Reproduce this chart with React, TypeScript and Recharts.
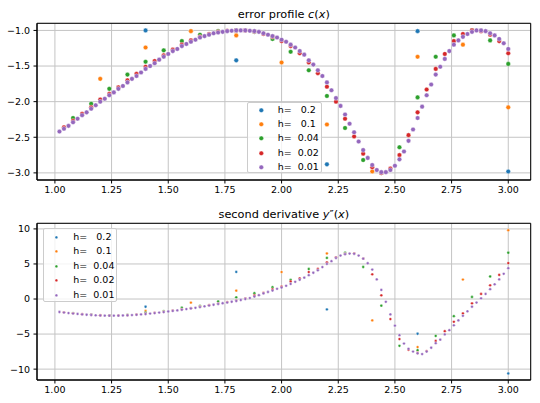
import React from "react";
import {
  ScatterChart,
  Scatter,
  XAxis,
  YAxis,
  CartesianGrid,
  ReferenceArea,
} from "recharts";

const COLORS = ["#1f77b4", "#ff7f0e", "#2ca02c", "#d62728", "#9467bd"];
const STEPS = [0.2, 0.1, 0.04, 0.02, 0.01];
const LABELS = ["h=   0.2", "h=   0.1", "h=  0.04", "h=  0.02", "h=  0.01"];
const X_TICKS = [1.0, 1.25, 1.5, 1.75, 2.0, 2.25, 2.5, 2.75, 3.0];
const C_TICKS = [-3.0, -2.5, -2.0, -1.5, -1.0];
const D_TICKS = [-10, -5, 0, 5, 10];

// error profile c(x), one array per h (every second grid point is shown)
const C_H02 = [-1.0, -1.42, -2.88, -1.01, -2.98];
const C_H01 = [-1.68, -1.24, -1.01, -1.07, -1.45, -2.32, -2.98, -1.37, -1.2, -2.08];
const C_H004 = [
  -2.23, -2.03, -1.82, -1.62, -1.44, -1.28, -1.15, -1.06, -1.01, -1.0,
  -1.02, -1.12, -1.3, -1.56, -1.92, -2.37, -2.82, -3.0, -2.64, -1.94,
  -1.37, -1.07, -1.0, -1.14, -1.47,
];
const C_H002 = [
  -2.36, -2.27, -2.17, -2.08, -1.97, -1.89, -1.8, -1.7, -1.61, -1.51,
  -1.43, -1.35, -1.27, -1.2, -1.14, -1.09, -1.05, -1.02, -1.005, -1.0,
  -1.0, -1.015, -1.05, -1.09, -1.15, -1.22, -1.32, -1.45, -1.6, -1.79,
  -2.0, -2.24, -2.49, -2.73, -2.92, -3.0, -2.94, -2.75, -2.47, -2.15,
  -1.83, -1.54, -1.33, -1.15, -1.05, -1.0, -1.01, -1.06, -1.15, -1.32,
];
const C_H001 = [
  -2.42, -2.38, -2.34, -2.29, -2.24, -2.19, -2.15, -2.1, -2.05, -2.0,
  -1.96, -1.91, -1.87, -1.82, -1.78, -1.73, -1.68, -1.64, -1.59, -1.54,
  -1.5, -1.46, -1.41, -1.37, -1.33, -1.29, -1.26, -1.22, -1.19, -1.16,
  -1.13, -1.1, -1.08, -1.06, -1.04, -1.03, -1.02, -1.01, -1.005, -1.0,
  -1.0, -1.0, -1.005, -1.01, -1.02, -1.04, -1.06, -1.08, -1.1, -1.13,
  -1.16, -1.2, -1.24, -1.29, -1.34, -1.42, -1.48, -1.56, -1.64, -1.73,
  -1.84, -1.95, -2.06, -2.18, -2.31, -2.43, -2.56, -2.68, -2.79, -2.89,
  -2.96, -2.99, -2.99, -2.96, -2.9, -2.81, -2.7, -2.55, -2.39, -2.23,
  -2.07, -1.91, -1.76, -1.62, -1.51, -1.4, -1.29, -1.2, -1.14, -1.09,
  -1.05, -1.02, -1.0, -1.0, -1.01, -1.04, -1.07, -1.12, -1.18, -1.26,
];

// second derivative y''(x)
const D_H02 = [-1.1, 3.86, -1.49, -4.95, -10.62];
const D_H01 = [-2.3, -1.71, -0.52, 1.19, 3.85, 6.49, -3.05, -6.86, 2.78, 9.81];
const D_H004 = [
  -2.0, -2.22, -2.32, -2.25, -1.95, -1.72, -1.24, -0.98, -0.35, 0.24,
  0.82, 1.68, 2.74, 4.28, 5.86, 6.6, 4.57, -0.95, -6.67, -7.3,
  -5.26, -2.44, 0.29, 3.21, 6.6,
];
const D_H002 = [
  -1.9, -2.04, -2.16, -2.26, -2.33, -2.37, -2.36, -2.31, -2.23, -2.11,
  -1.97, -1.82, -1.66, -1.49, -1.3, -1.1, -0.88, -0.66, -0.44, -0.22,
  0.06, 0.5, 0.88, 1.39, 1.78, 2.5, 2.95, 3.85, 4.28, 5.24,
  5.95, 6.45, 6.5, 5.76, 3.52, 0.52, -2.86, -5.71, -7.24, -7.7,
  -7.42, -5.98, -4.59, -3.25, -2.06, -0.62, 0.72, 1.96, 3.44, 5.12,
];
const D_H001 = [
  -1.85, -1.93, -2.0, -2.07, -2.13, -2.19, -2.24, -2.28, -2.32, -2.35,
  -2.37, -2.38, -2.38, -2.37, -2.35, -2.32, -2.29, -2.25, -2.2, -2.14,
  -2.08, -2.01, -1.94, -1.86, -1.78, -1.7, -1.62, -1.53, -1.44, -1.35,
  -1.25, -1.15, -1.04, -0.93, -0.82, -0.71, -0.6, -0.5, -0.39, -0.28,
  -0.14, 0.0, 0.14, 0.35, 0.55, 0.8, 1.0, 1.2, 1.45, 1.63,
  1.88, 2.15, 2.45, 2.75, 3.05, 3.4, 3.75, 4.1, 4.55, 5.0,
  5.4, 5.85, 6.2, 6.4, 6.48, 6.45, 6.2, 5.75, 5.1, 4.2,
  2.8, 1.3, -0.4, -2.2, -3.8, -5.15, -6.35, -7.1, -7.5, -7.75,
  -7.85, -7.5, -6.95, -6.3, -5.8, -5.05, -4.45, -3.75, -3.05, -2.4,
  -1.75, -1.1, -0.5, 0.1, 0.72, 1.4, 2.1, 2.8, 3.6, 4.4,
];

const C_SERIES = [C_H02, C_H01, C_H004, C_H002, C_H001];
const D_SERIES = [D_H02, D_H01, D_H004, D_H002, D_H001];

const X_DOMAIN: [number, number] = [0.921, 3.099];
const FONT = "'DejaVu Sans', sans-serif";

// points sit on x = 1 + 2h, 1 + 4h, ... up to 3
const toPoints = (h: number, vals: number[]) =>
  vals.map((y, i) => ({ x: 1 + 2 * h * (i + 1), y }));

const minus = (s: string) => s.replace("-", "\u2212");

function Dot({ color, r }: { color: string; r: number }) {
  return (
    <svg width={2 * r + 2} height={2 * r + 2} style={{ display: "block" }}>
      <circle cx={r + 1} cy={r + 1} r={r} fill={color} stroke="#fff" strokeWidth={0.4} />
    </svg>
  );
}

function LegendBox({
  left,
  top,
  width,
  height,
  r,
  markerX,
  textX,
  firstY,
  dy,
}: {
  left: number;
  top: number;
  width: number;
  height: number;
  r: number;
  markerX: number;
  textX: number;
  firstY: number;
  dy: number;
}) {
  return (
    <div
      style={{
        position: "absolute",
        left,
        top,
        width,
        height,
        boxSizing: "border-box",
        background: "rgba(255,255,255,0.8)",
        border: "1px solid #cccccc",
        borderRadius: 2,
        fontFamily: FONT,
        fontSize: 9.5,
      }}
    >
      {LABELS.map((label, i) => (
        <div
          key={label}
          style={{
            position: "absolute",
            left: 0,
            top: firstY - dy / 2 + i * dy,
            height: dy,
            width: width - 2,
          }}
        >
          <div
            style={{
              position: "absolute",
              left: markerX - r - 1,
              top: dy / 2 - r - 1,
            }}
          >
            <Dot color={COLORS[i]} r={r} />
          </div>
          <div
            style={{
              position: "absolute",
              left: textX,
              top: 0,
              height: dy,
              lineHeight: `${dy}px`,
              whiteSpace: "pre",
              color: "#000",
            }}
          >
            {label}
          </div>
        </div>
      ))}
    </div>
  );
}

function Panel({
  series,
  yDomain,
  yTicks,
  yFmt,
  r,
  height,
  xAxisHeight,
}: {
  series: number[][];
  yDomain: [number, number];
  yTicks: number[];
  yFmt: (v: number) => string;
  r: number;
  height: number;
  xAxisHeight: number;
}) {
  const tick = { fill: "#000", fontSize: 9.5, fontFamily: FONT };
  return (
    <ScatterChart
      width={540}
      height={height}
      margin={{ top: 23.3, right: 9.3, bottom: 0, left: 0 }}
    >
      <CartesianGrid stroke="#c4c4c4" strokeWidth={1} />
      <XAxis
        type="number"
        dataKey="x"
        domain={X_DOMAIN}
        ticks={X_TICKS}
        interval={0}
        allowDataOverflow
        height={xAxisHeight}
        tickFormatter={(v: number) => v.toFixed(2)}
        tick={tick}
        tickSize={3.5}
        tickMargin={3}
        tickLine={{ stroke: "#000" }}
        axisLine={{ stroke: "#000" }}
      />
      <YAxis
        type="number"
        dataKey="y"
        domain={yDomain}
        ticks={yTicks}
        interval={0}
        allowDataOverflow
        width={37}
        tickFormatter={yFmt}
        tick={tick}
        tickSize={3.5}
        tickMargin={3.5}
        tickLine={{ stroke: "#000" }}
        axisLine={{ stroke: "#000" }}
      />
      {series.map((vals, i) => (
        <Scatter
          key={i}
          data={toPoints(STEPS[i], vals)}
          isAnimationActive={false}
          shape={(p: any) => (
            <circle
              cx={p.cx}
              cy={p.cy}
              r={r}
              fill={COLORS[i]}
              stroke="#fff"
              strokeWidth={0.4}
            />
          )}
        />
      ))}
      <ReferenceArea
        x1={X_DOMAIN[0]}
        x2={X_DOMAIN[1]}
        y1={yDomain[0]}
        y2={yDomain[1]}
        fill="none"
        fillOpacity={0}
        stroke="#000"
        strokeWidth={1}
        ifOverflow="visible"
      />
    </ScatterChart>
  );
}

export default function App() {
  const titleStyle: React.CSSProperties = {
    position: "absolute",
    left: 37,
    width: 493.7,
    textAlign: "center",
    fontFamily: FONT,
    fontSize: 11.3,
    lineHeight: 1,
    color: "#000",
    whiteSpace: "nowrap",
  };
  return (
    <div
      style={{
        position: "absolute",
        left: 0,
        top: 0,
        width: 540,
        height: 403,
        background: "#fff",
      }}
    >
      <div style={{ position: "absolute", left: 0, top: 0 }}>
        <Panel
          series={C_SERIES}
          yDomain={[-3.1, -0.9]}
          yTicks={C_TICKS}
          yFmt={(v) => minus(v.toFixed(1))}
          r={2.3}
          height={200}
          xAxisHeight={20}
        />
      </div>
      <div style={{ position: "absolute", left: 0, top: 200 }}>
        <Panel
          series={D_SERIES}
          yDomain={[-11.55, 10.8]}
          yTicks={D_TICKS}
          yFmt={(v) => minus(String(v))}
          r={1.4}
          height={203}
          xAxisHeight={23}
        />
      </div>
      <div style={{ ...titleStyle, top: 8.7 }}>
        error profile <i>c</i>(<i>x</i>)
      </div>
      <div style={{ ...titleStyle, top: 208.7 }}>
        second derivative <i>y</i>″(<i>x</i>)
      </div>
      <LegendBox
        left={246.7}
        top={101.7}
        width={75}
        height={71.6}
        r={2.3}
        markerX={14}
        textX={30}
        firstY={7.3}
        dy={14.3}
      />
      <LegendBox
        left={42.7}
        top={228.3}
        width={74.6}
        height={73.4}
        r={1.4}
        markerX={13}
        textX={29.6}
        firstY={7.7}
        dy={14.5}
      />
    </div>
  );
}
